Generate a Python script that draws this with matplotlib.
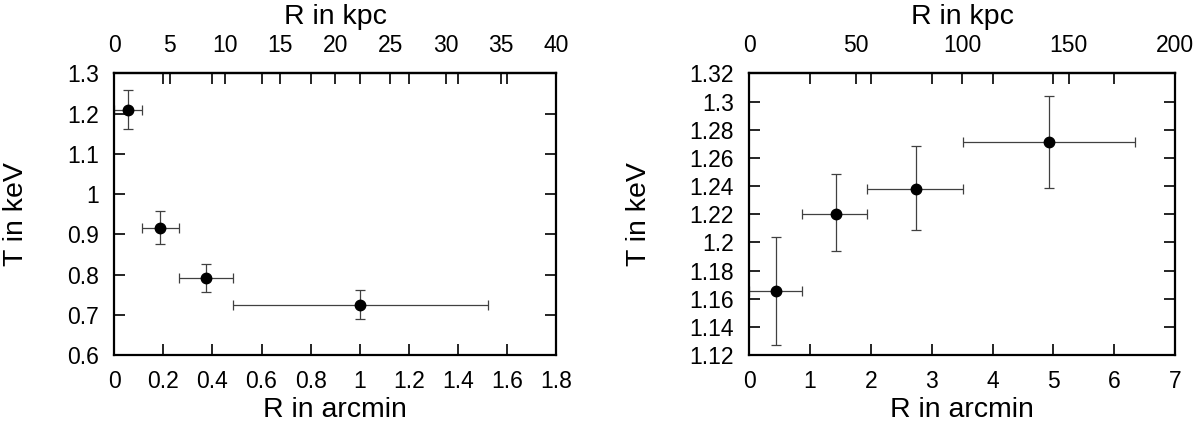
import numpy as np
import matplotlib
matplotlib.use("Agg")
import matplotlib.pyplot as plt

plt.rcParams["font.family"] = ["Liberation Sans", "DejaVu Sans"]

# left panel: inner region (R in arcmin, T in keV)
r_in = [0.056, 0.1875, 0.373, 1.003]
r_in_lo = [0.0, 0.1125, 0.2625, 0.484]
r_in_hi = [0.1115, 0.2625, 0.484, 1.523]
t_in = [1.210, 0.916, 0.792, 0.725]
t_in_lo = [1.163, 0.875, 0.757, 0.689]
t_in_hi = [1.258, 0.959, 0.827, 0.761]

# right panel: outer region
r_out = [0.446, 1.419, 2.743, 4.93]
r_out_lo = [0.0, 0.873, 1.940, 3.515]
r_out_hi = [0.873, 1.940, 3.515, 6.34]
t_out = [1.1654, 1.2204, 1.2382, 1.2711]
t_out_lo = [1.1274, 1.1936, 1.2085, 1.2389]
t_out_hi = [1.2040, 1.2484, 1.2684, 1.3041]

KPC_PER_ARCMIN_L = 40 / 1.8
KPC_PER_ARCMIN_R = 200 / 7.0

TICK_FS = 16.5
LABEL_FS = 20.5
ERR_COLOR = "#404040"


def draw_panel(ax, r, r_lo, r_hi, t, t_lo, t_hi, xlim, xticks, xticklabels,
               ylim, yticks, yticklabels, kpc_scale, kpc_ticks, ylabel_x):
    r = np.array(r)
    t = np.array(t)
    xerr = [r - np.array(r_lo), np.array(r_hi) - r]
    yerr = [t - np.array(t_lo), np.array(t_hi) - t]
    ax.errorbar(r, t, xerr=xerr, yerr=yerr, fmt="none", ecolor=ERR_COLOR,
                elinewidth=0.9, capsize=3.3, capthick=0.9, zorder=2)
    ax.plot(r, t, "o", color="black", markersize=7.5, zorder=3)

    ax.set_xlim(*xlim)
    ax.set_ylim(*ylim)
    ax.set_xticks(xticks)
    ax.set_xticklabels(xticklabels)
    ax.set_yticks(yticks)
    ax.set_yticklabels(yticklabels)
    ax.tick_params(direction="in", length=8, width=1.2, labelsize=TICK_FS,
                   pad=11, top=True, right=True, labeltop=False)
    for spine in ax.spines.values():
        spine.set_linewidth(1.6)

    sec = ax.secondary_xaxis("top", functions=(lambda x: x * kpc_scale,
                                               lambda k: k / kpc_scale))
    sec.set_xticks(kpc_ticks)
    sec.set_xticklabels([str(k) for k in kpc_ticks])
    sec.tick_params(direction="in", length=8, width=1.2, labelsize=TICK_FS, pad=12)
    sec.spines["top"].set_linewidth(1.6)
    sec.set_xlabel("R in kpc", fontsize=LABEL_FS, labelpad=7)

    ax.set_xlabel("R in arcmin", fontsize=LABEL_FS)
    ax.xaxis.set_label_coords(0.5, -0.15)
    ax.set_ylabel("T in keV", fontsize=LABEL_FS)
    ax.yaxis.set_label_coords(ylabel_x, 0.5)


fig = plt.figure(figsize=(12, 4.25), dpi=100)
ax_l = fig.add_axes([0.0953, 0.1647, 0.368, 0.6624])
ax_r = fig.add_axes([0.6244, 0.1647, 0.3548, 0.6624])

xt_l = [0, 0.2, 0.4, 0.6, 0.8, 1.0, 1.2, 1.4, 1.6, 1.8]
yt_l = [0.6, 0.7, 0.8, 0.9, 1.0, 1.1, 1.2, 1.3]
draw_panel(ax_l, r_in, r_in_lo, r_in_hi, t_in, t_in_lo, t_in_hi,
           (0, 1.8), xt_l, ["0", "0.2", "0.4", "0.6", "0.8", "1", "1.2", "1.4", "1.6", "1.8"],
           (0.6, 1.3), yt_l, ["0.6", "0.7", "0.8", "0.9", "1", "1.1", "1.2", "1.3"],
           KPC_PER_ARCMIN_L, [0, 5, 10, 15, 20, 25, 30, 35, 40], -0.193)

xt_r = [0, 1, 2, 3, 4, 5, 6, 7]
yt_r = [1.12, 1.14, 1.16, 1.18, 1.20, 1.22, 1.24, 1.26, 1.28, 1.30, 1.32]
draw_panel(ax_r, r_out, r_out_lo, r_out_hi, t_out, t_out_lo, t_out_hi,
           (0, 7), xt_r, [str(v) for v in xt_r],
           (1.12, 1.32), yt_r,
           ["1.12", "1.14", "1.16", "1.18", "1.2", "1.22", "1.24", "1.26", "1.28", "1.3", "1.32"],
           KPC_PER_ARCMIN_R, [0, 50, 100, 150, 200], -0.229)

fig.savefig("out.png", dpi=100)
